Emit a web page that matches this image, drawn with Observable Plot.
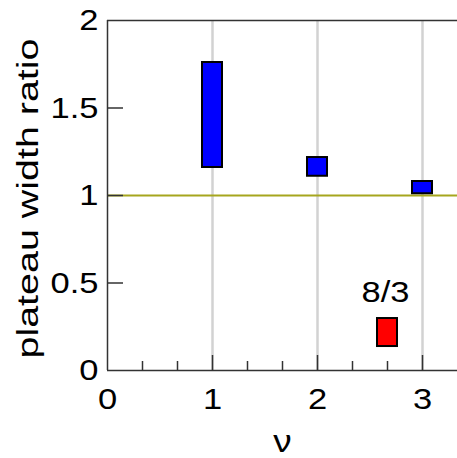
<!DOCTYPE html>
<html>
<head>
<meta charset="utf-8">
<script src="https://cdn.jsdelivr.net/npm/d3@7"></script>
<script src="https://cdn.jsdelivr.net/npm/@observablehq/plot@0.6"></script>
<style>
  html, body { margin: 0; padding: 0; background: #fff; }
  svg { display: block; }
</style>
</head>
<body>
<div id="chart"></div>
<script>
// ---- data ----
const nu = [1, 2, 3, 8 / 3];
const lower = [1.16, 1.11, 1.01, 0.137];
const upper = [1.76, 1.217, 1.08, 0.297];
const kind = ["integer", "integer", "integer", "fractional"];
const kindColors = ["#0000ff", "#ff0000"];
const xTicks = [0, 1, 2, 3];
const xMinorTicks = [1 / 3, 2 / 3, 4 / 3, 5 / 3, 7 / 3, 8 / 3];
const yTicks = [0, 0.5, 1, 1.5, 2];
const yInnerTicks = [0.5, 1, 1.5];
const gridX = [1, 2, 3];
const refLine = [1];
const fracLabel = ["8/3"];
const xLabel = "ν";
const yLabel = "plateau width ratio";

const bars = nu.map((v, i) => ({nu: v, lo: lower[i], hi: upper[i], kind: kind[i]}));

const font = "'Liberation Sans', Arial, sans-serif";

const chart = Plot.plot({
  width: 457,
  height: 458,
  marginLeft: 107,
  marginRight: 0,
  marginTop: 20,
  marginBottom: 88,
  style: {fontFamily: font, background: "#fff", color: "#000"},
  x: {domain: [0, 10 / 3], axis: null},
  y: {domain: [0, 2], axis: null},
  color: {domain: ["integer", "fractional"], range: kindColors},
  marks: [
    Plot.ruleX(gridX, {stroke: "#d2d2d2", strokeWidth: 2.5}),
    Plot.ruleY(refLine, {stroke: "#a6a61e", strokeWidth: 2}),
    Plot.rect(bars, {
      x1: "nu", x2: "nu", y1: "lo", y2: "hi",
      insetLeft: -10, insetRight: -10,
      fill: "kind", stroke: "#000", strokeWidth: 2
    }),
    // frame
    Plot.ruleX([0], {stroke: "#333", strokeWidth: 1.5}),
    Plot.ruleY([0], {stroke: "#333", strokeWidth: 1.5}),
    Plot.ruleY([2], {stroke: "#333", strokeWidth: 1.5}),
    // x axis
    Plot.axisX({ticks: xTicks, tickSize: 0, tickPadding: 17, fontSize: 30, anchor: "bottom", label: null, tickFormat: d => String(d)}),
    Plot.axisX({ticks: gridX, tickSize: -15, text: null, anchor: "bottom", label: null, stroke: "#333", strokeWidth: 1.5}),
    Plot.axisX({ticks: xMinorTicks, tickSize: -9, text: null, anchor: "bottom", label: null, stroke: "#333", strokeWidth: 1.5}),
    // y axis
    Plot.axisY({ticks: yTicks, tickSize: 0, tickPadding: 9, fontSize: 30, anchor: "left", label: null, tickFormat: d => String(d)}),
    Plot.axisY({ticks: yInnerTicks, tickSize: -16, text: null, anchor: "left", label: null, stroke: "#333", strokeWidth: 1.5}),
    // labels
    Plot.text(fracLabel, {x: 8 / 3, y: upper[3], text: d => d, dy: -26, dx: -2, fontSize: 30, lineAnchor: "middle", fill: "#000"}),
    Plot.text([xLabel], {frameAnchor: "bottom", text: d => d, dy: 71, fontSize: 32, lineAnchor: "middle", fill: "#000"}),
    Plot.text([yLabel], {frameAnchor: "left", text: d => d, rotate: -90, dx: -79, dy: 3, fontSize: 30, lineAnchor: "middle", textAnchor: "middle", fill: "#000"})
  ]
});

document.getElementById("chart").appendChild(chart);

// stretch glyphs horizontally to match the reference's wide lettering
d3.select(chart).selectAll("text").each(function() {
  const t = this.textContent;
  if (!t) return;
  const len = this.getComputedTextLength();
  const factor = t === yLabel ? 320 / len : 1.15;
  this.setAttribute("textLength", len * factor);
  this.setAttribute("lengthAdjust", "spacingAndGlyphs");
});
</script>
</body>
</html>
